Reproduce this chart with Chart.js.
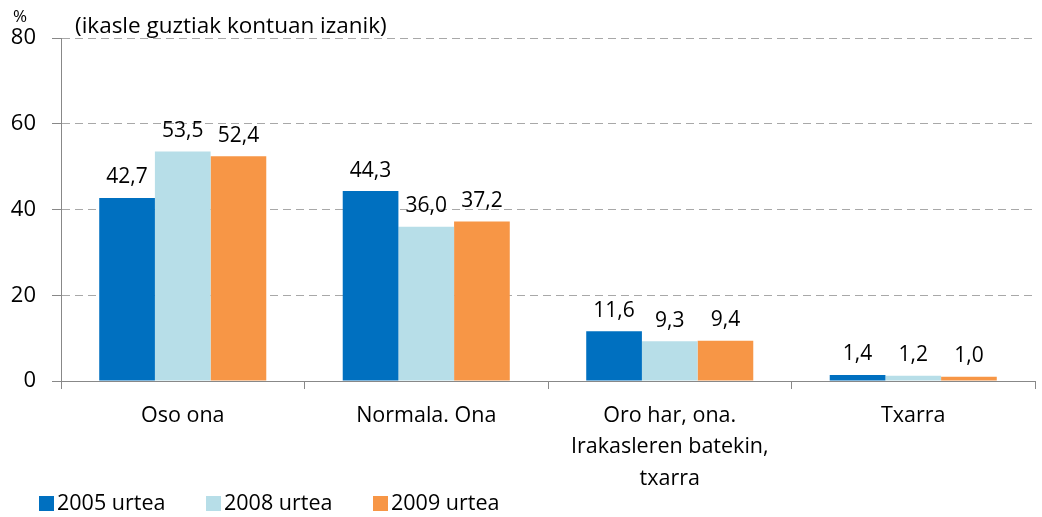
<!DOCTYPE html>
<html>
<head>
<meta charset="utf-8">
<script src="https://cdn.jsdelivr.net/npm/chart.js@4/dist/chart.umd.min.js"></script>
<style>
html,body{margin:0;padding:0;background:#fff;}
#wrap{width:1042px;height:517px;position:relative;}
</style>
</head>
<body>
<div id="wrap"><canvas id="c" width="1042" height="517"></canvas></div>
<script>
const categories = ["Oso ona", "Normala. Ona", ["Oro har, ona.", "Irakasleren batekin,", "txarra"], "Txarra"];
const seriesNames = ["2005 urtea", "2008 urtea", "2009 urtea"];
const values2005 = [42.7, 44.3, 11.6, 1.4];
const values2008 = [53.5, 36.0, 9.3, 1.2];
const values2009 = [52.4, 37.2, 9.4, 1.0];
const yTicks = [0, 20, 40, 60, 80];
const colors = ["#0070C0", "#B7DEE8", "#F79646"];
const unitLabel = "%";
const subtitle = "(ikasle guztiak kontuan izanik)";

const FONT = "'Open Sans', 'Noto Sans', sans-serif";

const dataLabels = {
  id: 'dataLabels',
  afterDatasetsDraw(chart) {
    const ctx = chart.ctx;
    ctx.save();
    ctx.font = "21px " + FONT;
    ctx.fillStyle = "#000";
    ctx.textAlign = "center";
    ctx.textBaseline = "bottom";
    chart.data.datasets.forEach((ds, i) => {
      const meta = chart.getDatasetMeta(i);
      meta.data.forEach((el, j) => {
        const txt = ds.data[j].toFixed(1).replace('.', ',');
        ctx.fillText(txt, el.x, el.y - 10);
      });
    });
    ctx.restore();
  }
};

const extras = {
  id: 'extras',
  afterDraw(chart) {
    const ctx = chart.ctx;
    ctx.save();
    ctx.fillStyle = "#000";
    ctx.textBaseline = "middle";
    ctx.textAlign = "left";
    ctx.font = "17px " + FONT;
    ctx.fillText(unitLabel, 13, 17);
    ctx.font = "22.5px " + FONT;
    ctx.fillText(subtitle, 75, 27);
    // legend
    let x = 39;
    const y = 504;
    ctx.font = "21.5px " + FONT;
    chart.data.datasets.forEach((ds) => {
      ctx.fillStyle = ds.backgroundColor;
      ctx.fillRect(x, y - 8, 15, 15);
      ctx.fillStyle = "#000";
      ctx.fillText(ds.label, x + 18, y);
      x += 167;
    });
    ctx.restore();
  }
};

new Chart(document.getElementById('c'), {
  type: 'bar',
  data: {
    labels: categories,
    datasets: [
      { label: seriesNames[0], data: values2005, backgroundColor: colors[0] },
      { label: seriesNames[1], data: values2008, backgroundColor: colors[1] },
      { label: seriesNames[2], data: values2009, backgroundColor: colors[2] }
    ]
  },
  options: {
    responsive: false,
    animation: false,
    devicePixelRatio: 1,
    layout: { padding: { top: 38, right: 7, bottom: 30, left: 0 } },
    datasets: { bar: { categoryPercentage: 0.686, barPercentage: 1.0 } },
    plugins: {
      legend: { display: false },
      tooltip: { enabled: false },
      title: { display: false }
    },
    scales: {
      x: {
        grid: { display: true, drawOnChartArea: false, tickLength: 8, color: '#888', offset: true },
        border: { display: true, color: '#888', width: 1 },
        ticks: { color: '#000', font: { family: FONT, size: 21.5, lineHeight: 1.46 }, padding: 11, maxRotation: 0, autoSkip: false },
        afterFit(s) { s.height = 106; }
      },
      y: {
        min: 0, max: 80,
        afterBuildTicks(s) { s.ticks = yTicks.map(v => ({ value: v })); },
        grid: { color: '#a8a8a8', tickLength: 9, tickColor: '#888', tickBorderDash: [] },
        border: { display: true, color: '#888', width: 1, dash: [8, 5] },
        ticks: { color: '#000', font: { family: FONT, size: 22 }, padding: 16 },
        afterFit(s) { s.width = 61; }
      }
    }
  },
  plugins: [dataLabels, extras]
});
</script>
</body>
</html>
